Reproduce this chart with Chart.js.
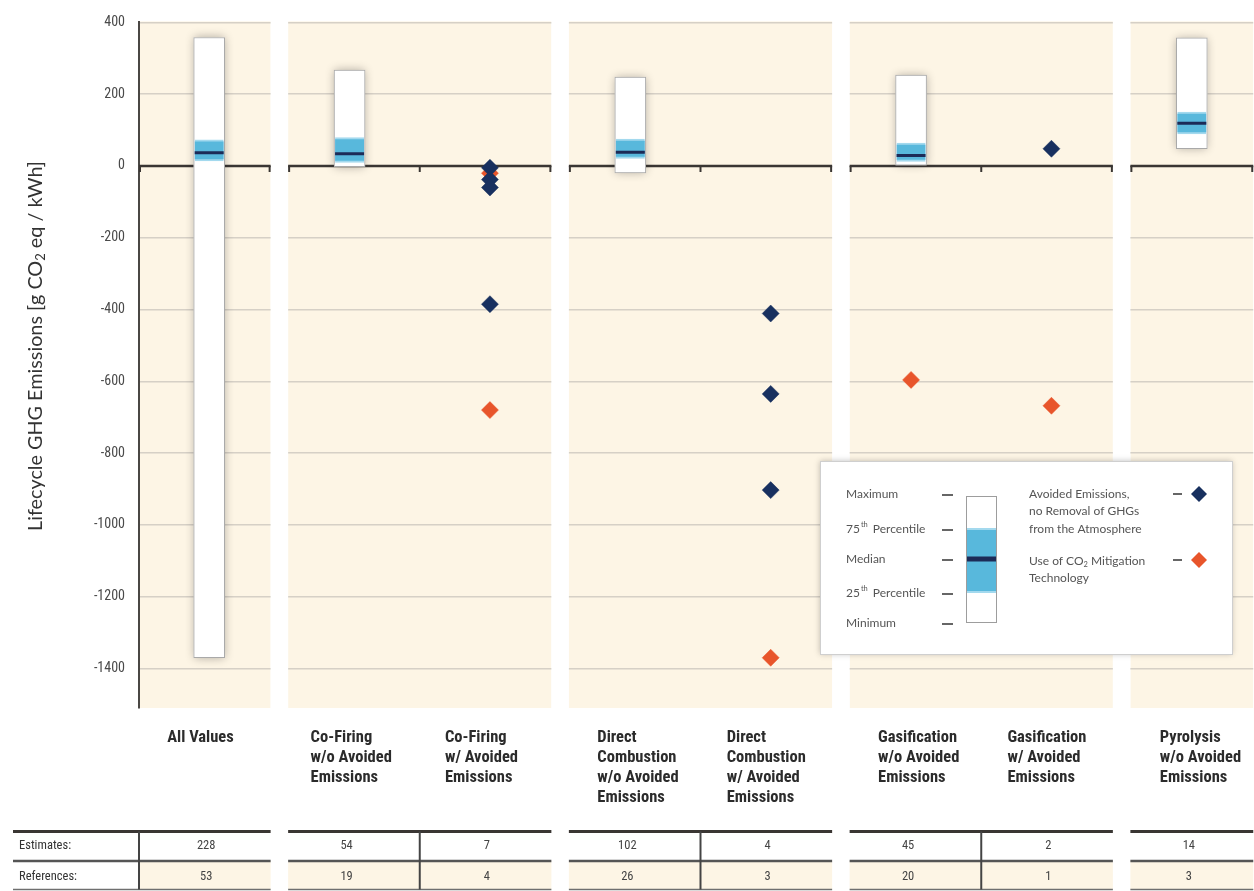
<!DOCTYPE html>
<html>
<head>
<meta charset="utf-8">
<script src="https://cdn.jsdelivr.net/npm/chart.js@4/dist/chart.umd.min.js"></script>
<style>
  html, body { margin: 0; padding: 0; background: #fff; overflow: hidden; width: 1254px; height: 891px; }
  #wrap { position: absolute; left: 0; top: 0; width: 1262px; height: 891px; }
</style>
</head>
<body>
<div id="wrap"><canvas id="c" width="1262" height="891"></canvas></div>
<script>
// ---- data ----
const categories = [
  ['All Values'],
  ['Co-Firing', 'w/o Avoided', 'Emissions'],
  ['Co-Firing', 'w/ Avoided', 'Emissions'],
  ['Direct', 'Combustion', 'w/o Avoided', 'Emissions'],
  ['Direct', 'Combustion', 'w/ Avoided', 'Emissions'],
  ['Gasification', 'w/o Avoided', 'Emissions'],
  ['Gasification', 'w/ Avoided', 'Emissions'],
  ['Pyrolysis', 'w/o Avoided', 'Emissions']
];
const categoryNames = categories.map(lines => lines.join(' '));
const panelSizes = [1, 2, 2, 2, 1];           // columns per technology panel

// distribution of estimates (g CO2eq/kWh)
const minimum = [-1370,  -2, null, -19, null,   0, null,  48];
const pct25   = [   14,  10, null,  21, null,  13, null,  89];
const median  = [   37,  34, null,  38, null,  29, null, 119];
const pct75   = [   73,  79, null,  75, null,  64, null, 150];
const maximum = [  358, 267, null, 248, null, 253, null, 357];

// single estimates: avoided emissions, no removal of GHGs from the atmosphere
const avoidedCategory = [2, 2, 2, 2, 4, 4, 4, 6];
const avoidedValue    = [-5, -38, -60, -385, -411, -635, -903, 48];
// single estimates: use of CO2 mitigation technology
const mitigationCategory = [2, 2, 4, 5, 6];
const mitigationValue    = [-20, -680, -1370, -596, -668];

const estimates  = [228, 54, 7, 102, 4, 45, 2, 14];
const references = [53, 19, 4, 26, 3, 20, 1, 3];
const tableRowLabels = ['Estimates:', 'References:'];

const yTickValues = [400, 200, 0, -200, -400, -600, -800, -1000, -1200, -1400];

const boxLegendLabels = ['Maximum', '75th Percentile', 'Median', '25th Percentile', 'Minimum'];
const pointLegendLabels = [
  ['Avoided Emissions,', 'no Removal of GHGs', 'from the Atmosphere'],
  ['Use of CO\u2082 Mitigation', 'Technology']
];

// ---- styling ----
const FONT = "'Liberation Sans Narrow', 'Roboto Condensed', Lato, sans-serif";
const TEXT_FONT = "Lato, 'Open Sans', sans-serif";
const CREAM = '#fdf5e5';
const NAVY = '#18305f';
const ORANGE = '#e8552b';
const BLUE = '#58b8dc';
const BLUE_EDGE = '#a3d9ee';
const MEDIAN_NAVY = '#1c2b57';
const PANEL_GAP = 17.5;
const labelShift = [-42, -39, -45, -33, -44, -33, -44, -32];

function colGeometry(chart) {
  const x = chart.scales.x;
  const w = x.getPixelForValue(1) - x.getPixelForValue(0);
  return { x, w, center: i => x.getPixelForValue(i) };
}

function panelRanges(chart) {
  const { w, center } = colGeometry(chart);
  const out = [];
  let start = 0;
  panelSizes.forEach((n, p) => {
    let left = center(start) - w / 2;
    let right = center(start + n - 1) + w / 2;
    if (p > 0) left += PANEL_GAP / 2;
    right -= PANEL_GAP / 2;
    const inner = [];
    for (let k = 1; k < n; k++) inner.push(center(start + k) - w / 2);
    out.push({ left, right, inner, start, n });
    start += n;
  });
  return out;
}

const decor = {
  id: 'decor',
  beforeDraw(chart) {
    const { ctx, chartArea } = chart;
    ctx.save();
    ctx.fillStyle = CREAM;
    panelRanges(chart).forEach(p => {
      ctx.fillRect(p.left, chartArea.top - 1, p.right - p.left, chartArea.bottom - chartArea.top + 1);
    });
    ctx.restore();
  },
  beforeDatasetsDraw(chart) {
    const { ctx, chartArea } = chart;
    const panels = panelRanges(chart);
    ctx.save();
    // white separation between panels
    ctx.fillStyle = '#fff';
    for (let i = 0; i < panels.length; i++) {
      const right = panels[i].right;
      const next = i + 1 < panels.length ? panels[i + 1].left : chartArea.right + 20;
      ctx.fillRect(right, chartArea.top - 2, next - right, chartArea.bottom - chartArea.top + 3);
    }
    // zero line with column ticks
    const y0 = chart.scales.y.getPixelForValue(0);
    ctx.strokeStyle = '#3a3633';
    panels.forEach(p => {
      ctx.lineWidth = 2.5;
      ctx.beginPath();
      ctx.moveTo(p.left, y0);
      ctx.lineTo(p.right, y0);
      ctx.stroke();
      ctx.lineWidth = 2;
      [p.left + 1, ...p.inner, p.right - 1].forEach(xx => {
        ctx.beginPath();
        ctx.moveTo(xx, y0);
        ctx.lineTo(xx, y0 + 6);
        ctx.stroke();
      });
    });
    // soft shadow under the range boxes
    const meta = chart.getDatasetMeta(0);
    ctx.shadowColor = 'rgba(0,0,0,0.3)';
    ctx.shadowBlur = 9;
    ctx.fillStyle = '#fff';
    meta.data.forEach(el => {
      if (!el || el.skip || isNaN(el.y)) return;
      const top = Math.min(el.y, el.base), bot = Math.max(el.y, el.base);
      if (!isFinite(top) || !isFinite(bot)) return;
      ctx.fillRect(el.x - el.width / 2, top, el.width, bot - top);
    });
    ctx.restore();
  },
  afterDraw(chart) {
    const { ctx } = chart;
    const { center } = colGeometry(chart);
    const panels = panelRanges(chart);
    ctx.save();

    // category labels
    ctx.fillStyle = '#2b2b2b';
    ctx.font = `bold 16.5px ${FONT}`;
    ctx.textAlign = 'left';
    ctx.textBaseline = 'alphabetic';
    categories.forEach((lines, i) => {
      lines.forEach((t, k) => ctx.fillText(t, center(i) + labelShift[i], 741.5 + k * 20));
    });

    // counts table
    const yTop = 831.5, yMid = 861, yBot = 889.5;
    panels.forEach((p, pi) => {
      const left = pi === 0 ? 13 : p.left;
      ctx.fillStyle = CREAM;
      ctx.fillRect(p.left, yMid, p.right - p.left, yBot - yMid);
      ctx.strokeStyle = '#3a3633';
      ctx.lineWidth = 3;
      ctx.beginPath(); ctx.moveTo(left, yTop); ctx.lineTo(p.right, yTop); ctx.stroke();
      ctx.strokeStyle = '#555';
      ctx.lineWidth = 2.5;
      ctx.beginPath(); ctx.moveTo(left, yMid); ctx.lineTo(p.right, yMid); ctx.stroke();
      ctx.strokeStyle = '#6f6f6f';
      ctx.lineWidth = 1.5;
      ctx.beginPath(); ctx.moveTo(left, yBot); ctx.lineTo(p.right, yBot); ctx.stroke();
      const seps = pi === 0 ? [p.left] : p.inner;
      ctx.strokeStyle = '#444';
      ctx.lineWidth = 2;
      seps.forEach(sx => {
        ctx.beginPath(); ctx.moveTo(sx, yTop); ctx.lineTo(sx, yBot); ctx.stroke();
      });
    });
    ctx.fillStyle = '#333';
    ctx.font = `12.5px ${FONT}`;
    ctx.textBaseline = 'middle';
    ctx.textAlign = 'left';
    ctx.fillText(tableRowLabels[0], 19, 846);
    ctx.fillText(tableRowLabels[1], 19, 877);
    ctx.textAlign = 'center';
    ctx.fillStyle = '#444';
    categories.forEach((_, i) => {
      ctx.fillText(String(estimates[i]), center(i) - 3, 846);
      ctx.fillText(String(references[i]), center(i) - 3, 877);
    });

    // y-axis title with subscript
    ctx.save();
    ctx.translate(36, 346);
    ctx.rotate(-Math.PI / 2);
    ctx.fillStyle = '#333';
    ctx.textBaseline = 'middle';
    ctx.textAlign = 'left';
    const big = `19.8px ${TEXT_FONT}`, small = `13px ${TEXT_FONT}`;
    const parts = [['Lifecycle GHG Emissions [g CO', big, 0], ['2', small, 5], [' eq / kWh]', big, 0]];
    let total = 0;
    parts.forEach(([t, f]) => { ctx.font = f; total += ctx.measureText(t).width; });
    let cx = -total / 2;
    parts.forEach(([t, f, dy]) => { ctx.font = f; ctx.fillText(t, cx, dy); cx += ctx.measureText(t).width; });
    ctx.restore();

    // key box
    const L = { x: 820, y: 461, w: 412, h: 193 };
    ctx.save();
    ctx.shadowColor = 'rgba(0,0,0,0.25)';
    ctx.shadowBlur = 6;
    ctx.fillStyle = '#fff';
    ctx.fillRect(L.x, L.y, L.w, L.h);
    ctx.restore();
    ctx.strokeStyle = '#cfcfcf';
    ctx.lineWidth = 1;
    ctx.strokeRect(L.x + 0.5, L.y + 0.5, L.w, L.h);

    const KEY_FONT = `12px ${TEXT_FONT}`;
    const KEY_SMALL = `7.5px ${TEXT_FONT}`;
    const rowY = [494, 529, 559, 593, 623];
    ctx.textAlign = 'left';
    ctx.textBaseline = 'middle';
    boxLegendLabels.forEach((t, k) => {
      ctx.fillStyle = '#555';
      ctx.font = KEY_FONT;
      const m = t.match(/^(\d+)(th)(.*)$/);
      if (m) {
        ctx.fillText(m[1], 846, rowY[k]);
        let xx = 846 + ctx.measureText(m[1]).width + 1;
        ctx.font = KEY_SMALL;
        ctx.fillText(m[2], xx, rowY[k] - 4);
        xx += ctx.measureText(m[2]).width;
        ctx.font = KEY_FONT;
        ctx.fillText(m[3], xx + 2, rowY[k]);
      } else {
        ctx.fillText(t, 846, rowY[k]);
      }
      ctx.strokeStyle = '#333';
      ctx.lineWidth = 1.5;
      ctx.beginPath(); ctx.moveTo(942, rowY[k] + 1); ctx.lineTo(953, rowY[k] + 1); ctx.stroke();
    });
    // box glyph
    ctx.fillStyle = '#fff';
    ctx.fillRect(966, 496, 31, 127);
    ctx.fillStyle = BLUE_EDGE;
    ctx.fillRect(967, 528, 29, 65);
    ctx.fillStyle = BLUE;
    ctx.fillRect(967, 530, 29, 61);
    ctx.fillStyle = MEDIAN_NAVY;
    ctx.fillRect(967, 556.5, 29, 5);
    ctx.strokeStyle = '#9d9d9d';
    ctx.lineWidth = 1;
    ctx.strokeRect(966.5, 496.5, 30, 126);

    // point symbols
    const diamond = (x, y, r, c) => {
      ctx.fillStyle = c;
      ctx.beginPath();
      ctx.moveTo(x - r, y); ctx.lineTo(x, y - r); ctx.lineTo(x + r, y); ctx.lineTo(x, y + r);
      ctx.closePath(); ctx.fill();
    };
    const symY = [494, 560];
    const symColor = [NAVY, ORANGE];
    const textY = [[494, 511.5, 529], [561, 578]];
    pointLegendLabels.forEach((lines, k) => {
      lines.forEach((t, j) => {
        ctx.fillStyle = '#555';
        if (t.includes('\u2082')) {
          const [a, b] = t.split('\u2082');
          ctx.font = KEY_FONT;
          ctx.fillText(a, 1029, textY[k][j]);
          let xx = 1029 + ctx.measureText(a).width;
          ctx.font = KEY_SMALL;
          ctx.fillText('2', xx, textY[k][j] + 4);
          xx += ctx.measureText('2').width;
          ctx.font = KEY_FONT;
          ctx.fillText(b, xx, textY[k][j]);
        } else {
          ctx.font = KEY_FONT;
          ctx.fillText(t, 1029, textY[k][j]);
        }
      });
      ctx.strokeStyle = '#333';
      ctx.lineWidth = 1.5;
      ctx.beginPath(); ctx.moveTo(1173, symY[k]); ctx.lineTo(1182, symY[k]); ctx.stroke();
      diamond(1199, symY[k], 8, symColor[k]);
    });

    ctx.restore();
  }
};

const chart = new Chart(document.getElementById('c'), {
  type: 'bar',
  data: {
    labels: categoryNames,
    datasets: [
      {
        label: 'Range',
        data: minimum.map((m, i) => (m === null ? null : [m, maximum[i]])),
        backgroundColor: '#ffffff',
        borderColor: '#a9a9a9',
        borderWidth: 1,
        borderSkipped: false,
        barThickness: 31,
        grouped: false,
        order: 5
      },
      {
        label: 'Interquartile range',
        data: pct25.map((q, i) => (q === null ? null : [q, pct75[i]])),
        backgroundColor: BLUE,
        borderColor: BLUE_EDGE,
        borderWidth: { top: 2, bottom: 2, left: 0, right: 0 },
        borderSkipped: false,
        barThickness: 29,
        grouped: false,
        order: 4
      },
      {
        type: 'scatter',
        label: 'Median',
        data: median.map((v, i) => (v === null ? null : { x: categoryNames[i], y: v })).filter(Boolean),
        pointStyle: 'line',
        pointRadius: 14.5,
        pointHoverRadius: 14.5,
        pointBorderWidth: 3,
        pointBorderColor: MEDIAN_NAVY,
        borderColor: MEDIAN_NAVY,
        order: 3
      },
      {
        type: 'scatter',
        label: 'Use of CO2 Mitigation Technology',
        data: mitigationCategory.map((c, k) => ({ x: categoryNames[c], y: mitigationValue[k] })),
        pointStyle: 'rectRot',
        pointRadius: 8.5,
        pointHoverRadius: 8.5,
        pointBackgroundColor: ORANGE,
        pointBorderColor: ORANGE,
        pointBorderWidth: 0.5,
        order: 2
      },
      {
        type: 'scatter',
        label: 'Avoided Emissions, no Removal of GHGs from the Atmosphere',
        data: avoidedCategory.map((c, k) => ({ x: categoryNames[c], y: avoidedValue[k] })),
        pointStyle: 'rectRot',
        pointRadius: 8.5,
        pointHoverRadius: 8.5,
        pointBackgroundColor: NAVY,
        pointBorderColor: NAVY,
        pointBorderWidth: 0.5,
        order: 1
      }
    ]
  },
  options: {
    responsive: false,
    animation: false,
    devicePixelRatio: 1,
    layout: { autoPadding: false, padding: { top: 17, right: 0, bottom: 183, left: 0 } },
    plugins: { legend: { display: false }, tooltip: { enabled: false } },
    events: [],
    scales: {
      x: { type: 'category', display: false, offset: true },
      y: {
        min: -1510,
        max: 400,
        afterBuildTicks: s => { s.ticks = yTickValues.map(v => ({ value: v })); },
        afterFit: s => { s.width = 139; },
        grid: { color: '#d6d0c6', lineWidth: 1.5, drawTicks: false },
        border: { display: true, color: '#4a4744', width: 2 },
        ticks: {
          padding: 14,
          color: '#4a4a4a',
          font: { family: FONT, size: 14 },
          callback: v => String(v)
        }
      }
    }
  },
  plugins: [decor]
});
</script>
</body>
</html>
